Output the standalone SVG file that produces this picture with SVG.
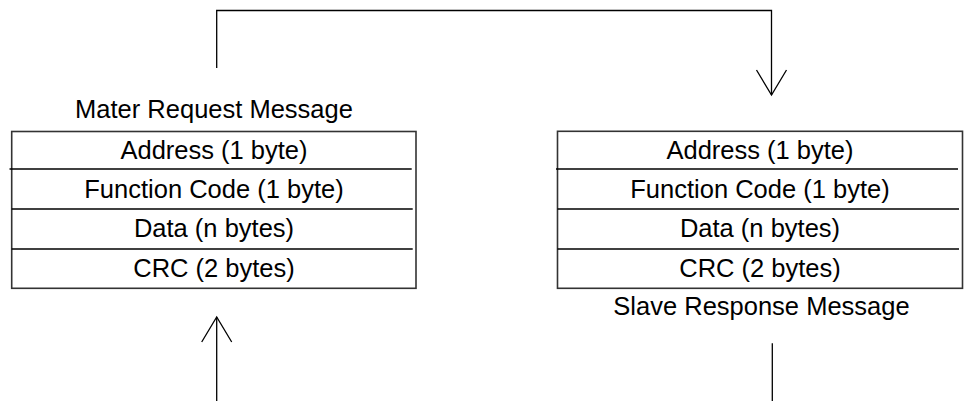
<svg xmlns="http://www.w3.org/2000/svg" width="968" height="401" viewBox="0 0 968 401">
  <style>
    .lbl { font-family: "Liberation Sans", Arial, sans-serif; font-size: 25.5px; fill: #000; text-anchor: middle; }
    .frame { fill: #fff; stroke: #333; stroke-width: 1.6; }
    .rule { stroke: #000; stroke-width: 1.3; fill: none; }
    .wire { stroke: #000; stroke-width: 1.3; fill: none; }
  </style>
  <rect width="968" height="401" fill="#fff"/>

  <!-- Request frame -->
  <g id="master-request">
    <text class="lbl" x="214" y="117.5">Mater Request Message</text>
    <rect class="frame" x="11.7" y="131.5" width="404.3" height="156.8"/>
    <line class="rule" x1="9.5" y1="169" x2="411.7" y2="169"/>
    <line class="rule" x1="11.7" y1="209" x2="412.7" y2="209"/>
    <line class="rule" x1="11.7" y1="249" x2="412.7" y2="249"/>
    <text class="lbl" x="214" y="158.5">Address (1 byte)</text>
    <text class="lbl" x="214" y="197.5">Function Code (1 byte)</text>
    <text class="lbl" x="214" y="237">Data (n bytes)</text>
    <text class="lbl" x="214" y="276.5">CRC (2 bytes)</text>
  </g>

  <!-- Response frame -->
  <g id="slave-response">
    <rect class="frame" x="557.5" y="131.3" width="405" height="157"/>
    <line class="rule" x1="556" y1="169" x2="958" y2="169"/>
    <line class="rule" x1="557.5" y1="209" x2="959" y2="209"/>
    <line class="rule" x1="557.5" y1="249" x2="959" y2="249"/>
    <text class="lbl" x="760" y="158.5">Address (1 byte)</text>
    <text class="lbl" x="760" y="197.5">Function Code (1 byte)</text>
    <text class="lbl" x="760" y="237">Data (n bytes)</text>
    <text class="lbl" x="760" y="276.5">CRC (2 bytes)</text>
    <text class="lbl" x="761.5" y="315">Slave Response Message</text>
  </g>

  <!-- Connectors -->
  <g id="connectors">
    <path class="wire" d="M216.7,68 V10.5 H771.5 V95"/>
    <polyline class="wire" points="756.5,70 771.5,95 786.5,70"/>
    <path class="wire" d="M216.7,401 V317"/>
    <polyline class="wire" points="201.7,342 216.7,317 231.7,342"/>
    <path class="wire" d="M772.3,343.3 V401"/>
  </g>
</svg>
